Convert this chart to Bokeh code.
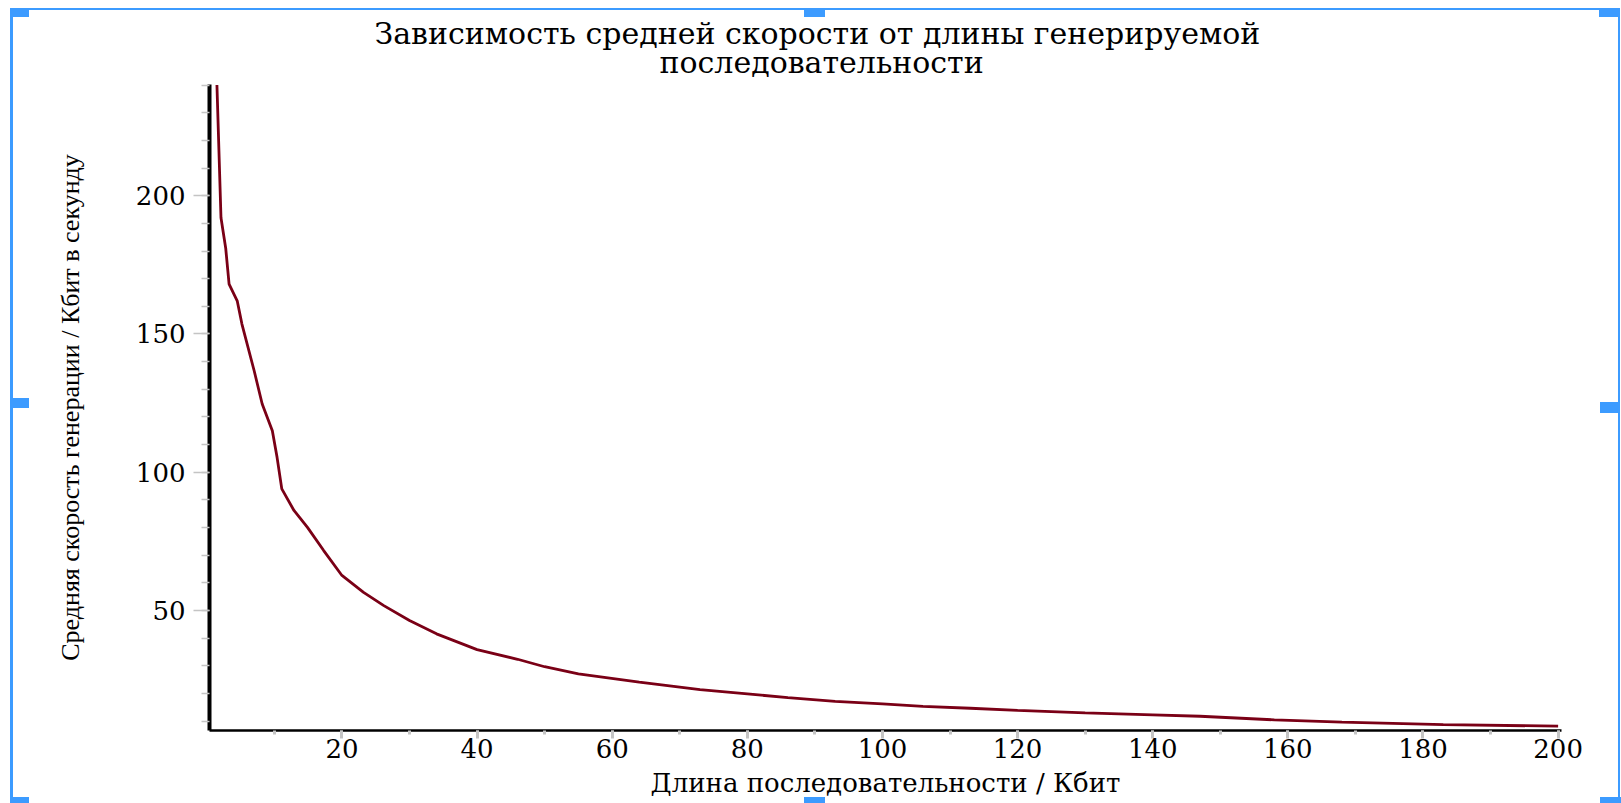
from bokeh.plotting import figure
from bokeh.models import Range1d, SingleIntervalTicker, Title
from bokeh.embed import file_html
from bokeh.resources import INLINE

# ---- texts ----
title_lines = ["Зависимость средней скорости от длины генерируемой",
               "последовательности"]
x_label = "Длина последовательности / Кбит"
y_label = "Средняя скорость генерации / Кбит в секунду"

# ---- data ----
length_kbit = [1.5, 2.1, 2.8, 3.3, 4.5, 5.2, 7.0, 8.2, 9.7, 10.4, 11.1, 12.9, 14.9,
               17.3, 20.0, 23.2, 26.2, 30.0, 34.0, 40.0, 46.0, 50.0, 55.0, 64.0,
               73.0, 80.0, 86.0, 93.0, 100.0, 106.0, 113.0, 120.0, 130.0, 140.0,
               147.0, 158.0, 168.0, 183.0, 200.0]
speed_kbps = [240.0, 192.0, 181.0, 168.0, 162.0, 153.6, 136.8, 124.7, 115.0, 105.4,
              94.0, 86.2, 80.1, 71.7, 62.7, 56.6, 51.8, 46.4, 41.6, 35.9, 32.4,
              29.7, 27.1, 24.1, 21.4, 19.9, 18.5, 17.2, 16.3, 15.4, 14.7, 13.9,
              13.0, 12.3, 11.8, 10.5, 9.7, 8.8, 8.2]

x_limits = (0.4, 200.5)
y_limits = (6.65, 240.2)
x_major_step, x_minor_count = 20, 2
y_major_step, y_minor_count = 50, 5

W, H = 1621, 803

# blue selection frame and handles (drawn as CSS background layers)
BLUE = "#3c9bff"
blue_boxes = [  # (left, top, width, height) in px
    (10, 8, 1610, 2), (10, 8, 3, 795), (1618, 8, 2, 795),
    (10, 9, 19, 8), (804, 9, 21, 8), (1599, 9, 21, 8),
    (10, 398, 19, 10), (1600, 402, 20, 11),
    (10, 797, 19, 6), (804, 797, 21, 6), (1600, 797, 21, 6),
]
css = {
    "background-color": "white",
    "background-image": ", ".join([f"linear-gradient({BLUE}, {BLUE})"] * len(blue_boxes)),
    "background-size": ", ".join(f"{w}px {h}px" for _, _, w, h in blue_boxes),
    "background-position": ", ".join(f"{l}px {t}px" for l, t, _, _ in blue_boxes),
    "background-repeat": "no-repeat",
}

p = figure(width=W, height=H, output_backend="svg", toolbar_location=None,
           x_range=Range1d(*x_limits), y_range=Range1d(*y_limits),
           min_border_left=209, min_border_right=60,
           min_border_top=84, min_border_bottom=73)
p.styles = css
p.outline_line_color = None
p.xgrid.grid_line_color = None
p.ygrid.grid_line_color = None
p.background_fill_color = "white"
p.border_fill_alpha = 0.0

p.line(length_kbit, speed_kbps, line_color="#7a0016", line_width=2.8)

TICK = "#c4c4c4"
xa = p.xaxis[0]
xa.ticker = SingleIntervalTicker(interval=x_major_step, num_minor_ticks=x_minor_count)
xa.axis_line_color = "black"
xa.axis_line_width = 2.5
xa.major_tick_in = 0
xa.major_tick_out = 8
xa.minor_tick_in = 0
xa.minor_tick_out = 4
xa.major_tick_line_color = TICK
xa.minor_tick_line_color = TICK
xa.major_tick_line_width = 3
xa.minor_tick_line_width = 3
xa.major_label_text_font = "DejaVu Serif"
xa.major_label_text_font_size = "26px"
xa.major_label_text_color = "black"
xa.major_label_standoff = 0
xa.axis_label = x_label
xa.axis_label_text_font = "DejaVu Serif"
xa.axis_label_text_font_size = "26px"
xa.axis_label_text_font_style = "normal"
xa.axis_label_text_color = "black"
xa.axis_label_standoff = 7

ya = p.yaxis[0]
ya.ticker = SingleIntervalTicker(interval=y_major_step, num_minor_ticks=y_minor_count)
ya.axis_line_color = "black"
ya.axis_line_width = 4
ya.major_tick_in = 0
ya.major_tick_out = 16
ya.minor_tick_in = 0
ya.minor_tick_out = 8
ya.major_tick_line_color = TICK
ya.minor_tick_line_color = TICK
ya.major_tick_line_width = 1.5
ya.minor_tick_line_width = 1.5
ya.major_label_text_font = "DejaVu Serif"
ya.major_label_text_font_size = "26px"
ya.major_label_text_color = "black"
ya.major_label_standoff = 8
ya.axis_label = y_label
ya.axis_label_text_font = "Liberation Serif"
ya.axis_label_text_font_size = "26px"
ya.axis_label_text_font_style = "normal"
ya.axis_label_text_color = "black"
ya.axis_label_standoff = 48

# ---- title: two lines, upper one is the plot title ----
p.title.text = title_lines[0]
p.title.align = "left"
p.title.offset = 165
p.title.standoff = -26
p.title.text_font = "DejaVu Serif"
p.title.text_font_size = "30px"
p.title.text_font_style = "normal"
p.title.text_color = "black"
p.add_layout(Title(text=title_lines[1], align="left", offset=450, standoff=10,
                   text_font="DejaVu Serif", text_font_size="30px",
                   text_font_style="normal", text_color="black"), "above")

open("out.html", "w").write(file_html(p, INLINE))
